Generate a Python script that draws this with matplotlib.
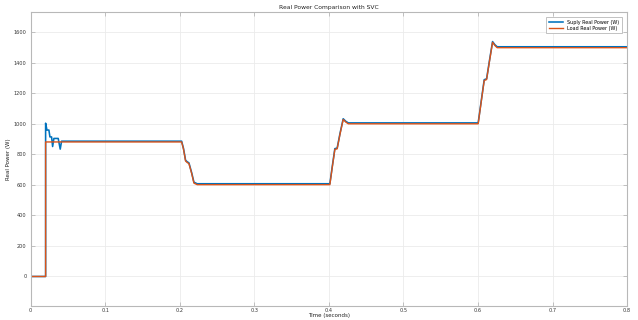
import matplotlib
matplotlib.use("Agg")
import matplotlib.pyplot as plt
import numpy as np

# Supply side real power (W) vs time (s)
t_supply = [0.0, 0.0201, 0.0201, 0.0219, 0.0245, 0.0259, 0.0281, 0.0295, 0.0312,
            0.0370, 0.0384, 0.0397, 0.0415, 0.2025, 0.2050, 0.2078, 0.2100, 0.2123,
            0.2160, 0.2190, 0.2234, 0.4013, 0.4045, 0.4080, 0.4111, 0.4150, 0.4192,
            0.4225, 0.4260, 0.6002, 0.6040, 0.6083, 0.6115, 0.6155, 0.6195, 0.6225,
            0.6257, 0.8]
p_supply = [0, 0, 1005, 960, 960, 915, 915, 852, 905,
            905, 868, 835, 887, 887, 840, 762, 752, 745,
            680, 618, 608, 608, 720, 838, 842, 940, 1034,
            1018, 1007, 1007, 1140, 1290, 1296, 1420, 1540, 1520,
            1506, 1506]

# Load side real power (W) vs time (s)
t_load = [0.0, 0.0201, 0.0201, 0.2025, 0.2050, 0.2078, 0.2100, 0.2123,
          0.2160, 0.2190, 0.2234, 0.4013, 0.4045, 0.4080, 0.4111, 0.4150, 0.4192,
          0.4225, 0.4260, 0.6002, 0.6040, 0.6083, 0.6115, 0.6155, 0.6195, 0.6225,
          0.6257, 0.8]
p_load = [0, 0, 882, 882, 835, 757, 747, 740,
          675, 612, 602, 602, 715, 833, 837, 935, 1029,
          1013, 1001, 1001, 1135, 1285, 1291, 1415, 1535, 1515,
          1500, 1500]

x_ticks = [0, 0.1, 0.2, 0.3, 0.4, 0.5, 0.6, 0.7, 0.8]
x_tick_labels = ["0", "0.1", "0.2", "0.3", "0.4", "0.5", "0.6", "0.7", "0.8"]
y_ticks = [0, 200, 400, 600, 800, 1000, 1200, 1400, 1600]

blue = "#0072BD"
orange = "#D95319"

fig = plt.figure(figsize=(6.38, 3.2), dpi=100)
ax = fig.add_axes([0.048, 0.044, 0.935, 0.919])

ax.plot(t_supply, p_supply, color=blue, lw=1.15, label="Suply Real Power (W)")
ax.plot(t_load, p_load, color=orange, lw=1.0, label="Load Real Power (W)")

ax.set_xlim(0, 0.8)
ax.set_ylim(-193, 1735)
ax.set_xticks(x_ticks)
ax.set_xticklabels(x_tick_labels)
ax.set_yticks(y_ticks)

ax.grid(True, color="#ebebeb", lw=0.6)
ax.set_axisbelow(True)
for s in ax.spines.values():
    s.set_color("#b8b8b8")
    s.set_linewidth(0.8)
ax.tick_params(direction="in", length=3, width=0.6, color="#b8b8b8",
               labelsize=3.6, labelcolor="#333333", right=True, top=True, pad=3)
ax.tick_params(axis="x", pad=1.5)

ax.set_title("Real Power Comparison with SVC", fontsize=4.3, color="#222222", pad=2)
ax.set_xlabel("Time (seconds)", fontsize=4.0, color="#222222", labelpad=0)
ax.set_ylabel("Real Power (W)", fontsize=4.0, color="#222222", labelpad=2)

leg = ax.legend(loc="upper right", fontsize=3.5, handlelength=3.0,
                borderpad=0.5, labelspacing=0.2, fancybox=False, framealpha=1,
                edgecolor="#b8b8b8", bbox_to_anchor=(0.995, 0.99))
leg.get_frame().set_linewidth(0.6)

fig.savefig("out.png", dpi=100)
